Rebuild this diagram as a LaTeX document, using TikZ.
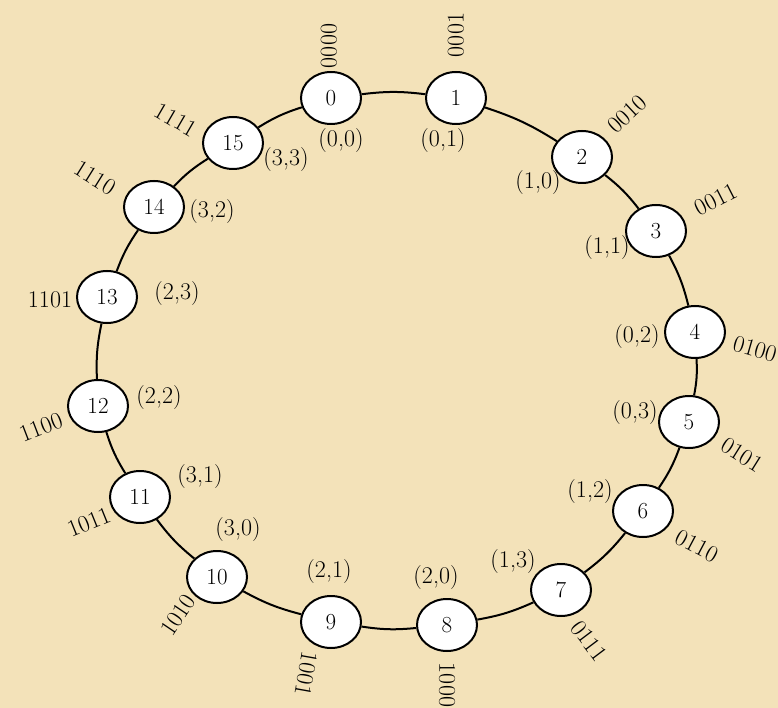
\documentclass[tikz,border=0pt]{standalone}
\usetikzlibrary{shapes.geometric}
\definecolor{bgc}{RGB}{243,226,185}
\begin{document}
\begin{tikzpicture}[x=1pt,y=-1pt,
  vtx/.style={ellipse,draw,line width=2pt,fill=white,minimum width=60pt,minimum height=52pt,inner sep=0pt,font=\fontsize{23}{25}\selectfont},
  link/.style={line width=2pt},
  lbl/.style={inner sep=0pt,font=\fontsize{24}{26}\selectfont}]
\fill[bgc] (0,0) rectangle (778,708);
\useasboundingbox (0,0) rectangle (778,708);
\foreach \i/\x/\y in {0/331/98, 1/456/98, 2/582/157, 3/656/231, 4/695/332, 5/689/422, 6/643/511, 7/561/590, 8/447/625, 9/331/622, 10/217/577, 11/140/497, 12/98/406, 13/107/297, 14/154/207, 15/233/143}
  \node[vtx] (n\i) at (\x,\y) {\i};
\foreach \a/\b in {0/1,1/2,2/3,3/4,4/5,5/6,6/7,7/8,8/9,9/10,10/11,11/12,12/13,13/14,14/15,15/0}
  \draw[link] (n\a) to[bend left=7] (n\b);
% binary codes
\foreach \i/\t/\x/\y/\r in {0/0000/329/46/90, 1/0001/456/35/90, 2/0010/627/114/43, 3/0011/716/200/27, 4/0100/755/349/-16, 5/0101/742/455/-32, 6/0110/697/546/-28, 7/0111/589/641/-53, 8/1000/447/685/-90, 9/1001/306/674/-100, 10/1010/178/615/56, 11/1011/89/522/22, 12/1100/41/427/21, 13/1101/50/300/0, 14/1110/95/178/-32, 15/1111/176/120/-30}
  \node[lbl,rotate=\r] (c\i) at (\x,\y) {\t};
% coordinate pairs
\foreach \i/\t/\x/\y in {0/{(0,0)}/341/141, 1/{(0,1)}/443/141, 2/{(1,0)}/538/183, 3/{(1,1)}/607/248, 4/{(0,2)}/637/337, 5/{(0,3)}/635/413, 6/{(1,2)}/590/492, 7/{(1,3)}/513/562, 8/{(2,0)}/436/578, 9/{(2,1)}/329/572, 10/{(3,0)}/238/530, 11/{(3,1)}/200/477, 12/{(2,2)}/159/398, 13/{(2,3)}/177/294, 14/{(3,2)}/212/212, 15/{(3,3)}/286/160}
  \node[lbl] (p\i) at (\x,\y) {\t};
\end{tikzpicture}
\end{document}
